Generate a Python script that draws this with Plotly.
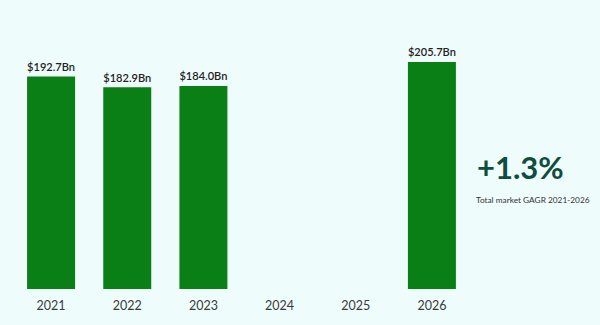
import plotly.graph_objects as go

# Market size by year (USD billions); 2024 and 2025 have no reported value
years = ["2021", "2022", "2023", "2024", "2025", "2026"]
market_bn = [192.7, 182.9, 184.0, None, None, 205.7]
value_labels = ["$192.7Bn", "$182.9Bn", "$184.0Bn", "", "", "$205.7Bn"]
gagr_text = "+1.3%"
gagr_caption = "Total market GAGR 2021-2026"

BG = "#effcfc"
BAR = "#0a7f16"
FONT = "Lato, 'Open Sans', sans-serif"

fig = go.Figure(
    go.Bar(
        x=years,
        y=market_bn,
        text=value_labels,
        textposition="outside",
        textfont=dict(family=FONT, size=13, color="#222222", weight=600),
        marker=dict(color=BAR, line=dict(width=0)),
        cliponaxis=False,
        hoverinfo="skip",
    )
)

fig.update_layout(
    width=600,
    height=325,
    margin=dict(l=13, r=130, t=35, b=32),
    paper_bgcolor=BG,
    plot_bgcolor=BG,
    bargap=0.37,
    showlegend=False,
    xaxis=dict(
        type="category",
        range=[-0.5, 5.5],
        showgrid=False,
        showline=False,
        zeroline=False,
        ticks="",
        ticklabelstandoff=7,
        tickfont=dict(family=FONT, size=12.5, color="#3a3a3a"),
    ),
    yaxis=dict(
        range=[0, 230.2],
        visible=False,
        showgrid=False,
        zeroline=False,
    ),
    annotations=[
        dict(
            text=gagr_text,
            xref="paper", yref="paper",
            x=1.0, y=0.482,
            xshift=5,
            xanchor="left", yanchor="middle",
            showarrow=False,
            font=dict(family=FONT, size=31, color="#0f4d3f", weight=700),
        ),
        dict(
            text=gagr_caption,
            xref="paper", yref="paper",
            x=1.0, y=0.35,
            xshift=4,
            xanchor="left", yanchor="middle",
            showarrow=False,
            font=dict(family=FONT, size=8.3, color="#333333"),
        ),
    ],
)

fig.write_html("out.html")
